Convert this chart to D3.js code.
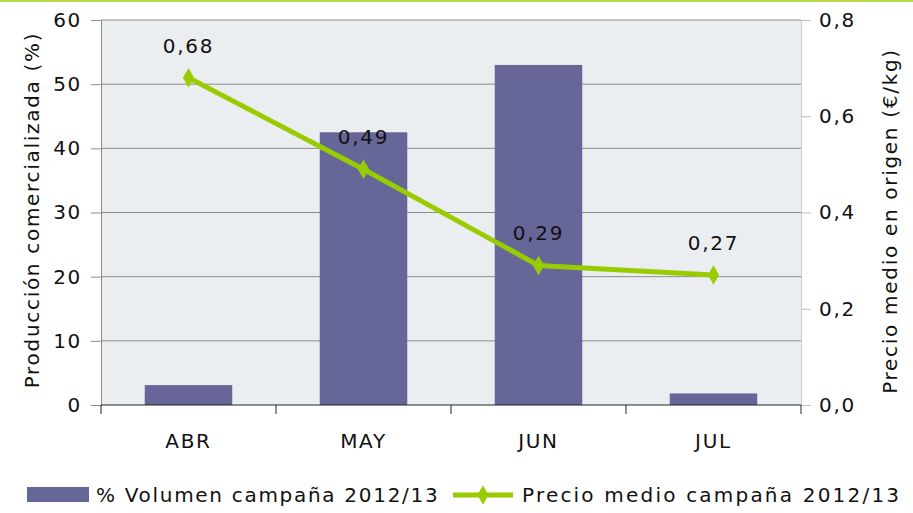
<!DOCTYPE html>
<html lang="es">
<head>
<meta charset="UTF-8">
<title>Producción y precio</title>
<script src="https://cdn.jsdelivr.net/npm/d3@7"></script>
<style>
    body { margin: 0; background: #fff; }
    text { font-family: "DejaVu Sans", sans-serif; fill: #111; font-size: 20px; letter-spacing: 1.7px; }
</style>
</head>
<body>
<div id="chart"></div>
<script>
    const months = ["ABR", "MAY", "JUN", "JUL"];
    const volumen = [3.1, 42.5, 53.0, 1.8];
    const precio = [0.68, 0.49, 0.29, 0.27];
    const leftTicks = [0, 10, 20, 30, 40, 50, 60];
    const rightTicks = [0, 0.2, 0.4, 0.6, 0.8];

    const W = 913, H = 513;
    const margin = {top: 20, right: 112, bottom: 108, left: 101};
    const width = W - margin.left - margin.right,
          height = H - margin.top - margin.bottom;

    const svg = d3.select("#chart").append("svg")
        .attr("width", W).attr("height", H);

    // green rule at the top
    svg.append("line")
        .attr("x1", 0).attr("x2", W).attr("y1", 1).attr("y2", 1)
        .attr("stroke", "#b9d84c").attr("stroke-width", 2);

    const g = svg.append("g")
        .attr("transform", "translate(" + margin.left + "," + margin.top + ")");

    const x = d3.scaleBand(months, [0, width]).paddingInner(0.5).paddingOuter(0.25);
    const xb = d3.scaleBand(months, [0, width]);
    const y = d3.scaleLinear([0, 60], [height, 0]);
    const y2 = d3.scaleLinear([0, 0.8], [height, 0]);

    g.append("rect")
        .attr("width", width).attr("height", height)
        .attr("fill", "#ebeef0");

    // gridlines
    g.append("g")
        .selectAll("line")
        .data(leftTicks.filter(d => d > 0))
        .enter().append("line")
        .attr("x1", 0).attr("x2", width)
        .attr("y1", d => y(d)).attr("y2", d => y(d))
        .attr("stroke", "#8c8c8c").attr("stroke-width", 1);

    // left axis
    g.append("g")
        .call(d3.axisLeft(y).tickValues(leftTicks).tickSize(10).tickPadding(9))
        .call(a => a.select(".domain").attr("stroke", "#8c8c8c"))
        .call(a => a.selectAll(".tick line").attr("stroke", "#8c8c8c"))
        .call(a => a.selectAll("text").style("font-size", "20px").attr("fill", "#111"));

    // right axis
    g.append("g")
        .attr("transform", "translate(" + width + ",0)")
        .call(d3.axisRight(y2).tickValues(rightTicks).tickSize(10).tickPadding(8)
            .tickFormat(d => d3.format(".1f")(d).replace(".", ",")))
        .call(a => a.select(".domain").attr("stroke", "#cccccc"))
        .call(a => a.selectAll(".tick line").attr("stroke", "#bbbbbb"))
        .call(a => a.selectAll("text").style("font-size", "20px").attr("fill", "#111"));

    // bars
    g.append("g")
        .selectAll("rect")
        .data(volumen)
        .enter().append("rect")
        .attr("x", (d, i) => x(months[i]))
        .attr("width", x.bandwidth())
        .attr("y", d => y(d))
        .attr("height", d => height - y(d))
        .attr("fill", "#666699");

    // bottom axis
    const xAxis = g.append("g")
        .attr("transform", "translate(0," + height + ")");
    xAxis.append("line")
        .attr("x1", 0).attr("x2", width)
        .attr("stroke", "#222");
    xAxis.selectAll("line.tk")
        .data(months.concat(["end"]))
        .enter().append("line")
        .attr("class", "tk")
        .attr("x1", (d, i) => i < months.length ? xb(d) : width)
        .attr("x2", (d, i) => i < months.length ? xb(d) : width)
        .attr("y1", 0).attr("y2", 9)
        .attr("stroke", "#222");
    xAxis.selectAll("text")
        .data(months)
        .enter().append("text")
        .attr("x", d => xb(d) + xb.bandwidth() / 2)
        .attr("y", 43)
        .attr("text-anchor", "middle")
        .text(d => d);

    // price line
    const cx = (d, i) => xb(months[i]) + xb.bandwidth() / 2;
    g.append("path")
        .datum(precio)
        .attr("fill", "none")
        .attr("stroke", "#99cc00")
        .attr("stroke-width", 5)
        .attr("d", d3.line().x(cx).y(d => y2(d)));

    g.append("g")
        .selectAll("path")
        .data(precio)
        .enter().append("path")
        .attr("d", d3.symbol(d3.symbolDiamond, 110))
        .attr("transform", (d, i) => "translate(" + cx(d, i) + "," + y2(d) + ")")
        .attr("fill", "#99cc00");

    g.append("g")
        .selectAll("text")
        .data(precio)
        .enter().append("text")
        .attr("x", cx)
        .attr("y", d => y2(d) - 25)
        .attr("text-anchor", "middle")
        .text(d => d3.format(".2f")(d).replace(".", ","));

    // axis titles
    svg.append("text")
        .attr("transform", "translate(39,210) rotate(-90)")
        .attr("text-anchor", "middle")
        .text("Producción comercializada (%)");

    svg.append("text")
        .attr("transform", "translate(897,221) rotate(-90)")
        .attr("text-anchor", "middle")
        .text("Precio medio en origen (€/kg)");

    // legend
    const leg = svg.append("g").attr("transform", "translate(0,495)");
    leg.append("rect")
        .attr("x", 27).attr("y", -8).attr("width", 62).attr("height", 15)
        .attr("fill", "#666699");
    leg.append("text")
        .attr("x", 96).attr("y", 7)
        .text("% Volumen campaña 2012/13");
    leg.append("line")
        .attr("x1", 453).attr("x2", 513).attr("y1", 0).attr("y2", 0)
        .attr("stroke", "#99cc00").attr("stroke-width", 5);
    leg.append("path")
        .attr("d", d3.symbol(d3.symbolDiamond, 110))
        .attr("transform", "translate(483,0)")
        .attr("fill", "#99cc00");
    leg.append("text")
        .attr("x", 522).attr("y", 7)
        .style("letter-spacing", "2.2px")
        .text("Precio medio campaña 2012/13");
</script>
</body>
</html>
